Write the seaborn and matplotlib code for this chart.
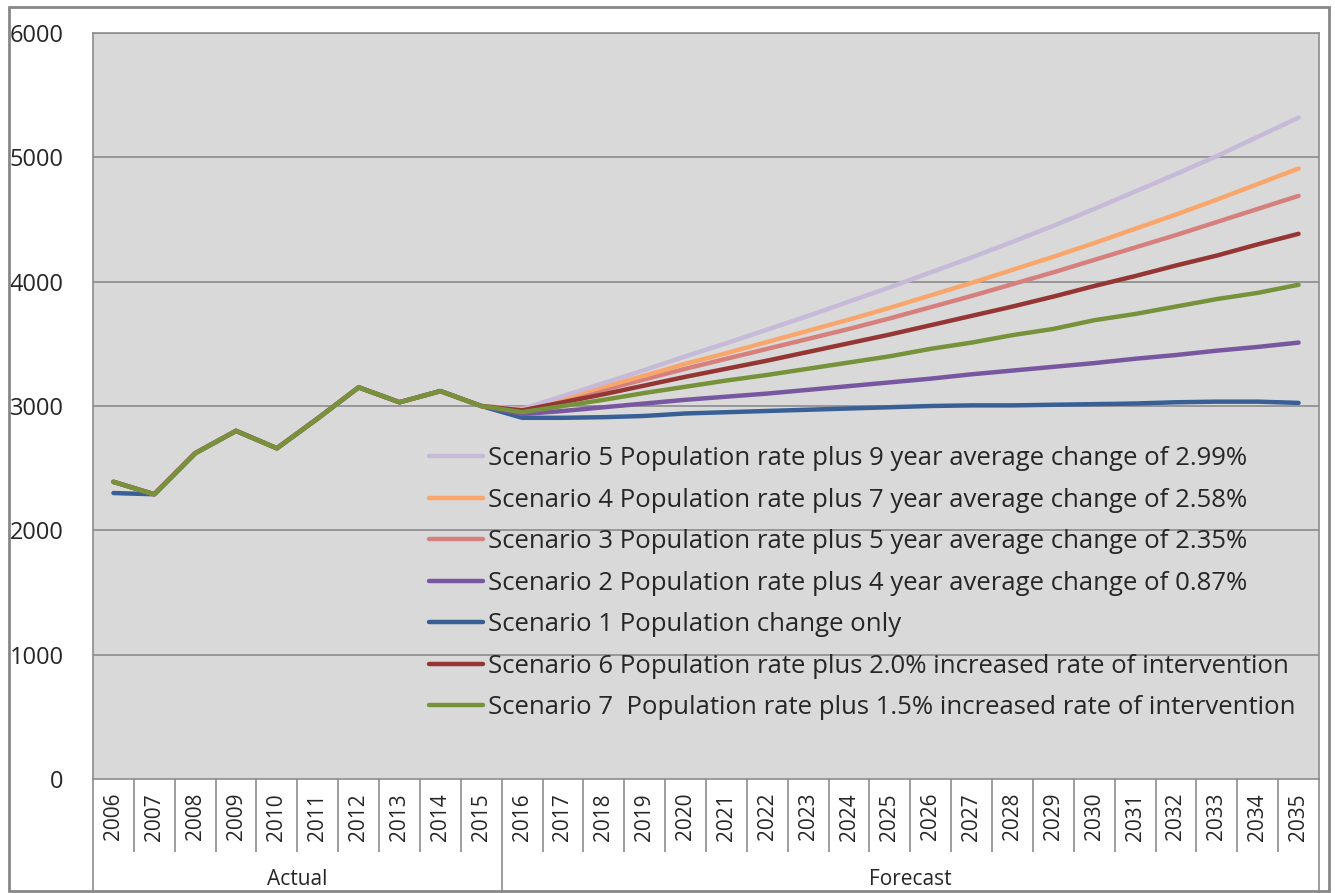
import numpy as np
import pandas as pd
import matplotlib.pyplot as plt
import matplotlib.transforms as mtransforms
from matplotlib.lines import Line2D
from matplotlib.patches import Rectangle
import seaborn as sns

# ---- data ----
actual_years = list(range(2006, 2016))
forecast_years = list(range(2016, 2036))

actual_common = [2390, 2290, 2620, 2800, 2660, 2900, 3150, 3030, 3120, 3000]
actual_s1 = [2300, 2290, 2620, 2800, 2660, 2900, 3150, 3030, 3120, 3000]

s1 = [2905, 2905, 2910, 2920, 2940, 2950, 2960, 2970, 2980, 2990,
      3000, 3005, 3005, 3010, 3015, 3020, 3030, 3035, 3035, 3025]
s2 = [2935, 2960, 2990, 3020, 3050, 3075, 3100, 3130, 3160, 3190,
      3220, 3255, 3285, 3315, 3345, 3380, 3410, 3445, 3475, 3510]
s3 = [2970, 3050, 3130, 3215, 3300, 3380, 3460, 3540, 3620, 3705,
      3795, 3885, 3980, 4075, 4175, 4275, 4375, 4480, 4585, 4690]
s4 = [2975, 3065, 3155, 3245, 3340, 3425, 3515, 3605, 3695, 3790,
      3890, 3990, 4095, 4200, 4310, 4425, 4540, 4660, 4785, 4910]
s5 = [2975, 3080, 3185, 3290, 3400, 3505, 3615, 3725, 3840, 3955,
      4075, 4195, 4320, 4450, 4585, 4725, 4865, 5010, 5165, 5320]
s6 = [2965, 3030, 3095, 3165, 3235, 3300, 3365, 3435, 3505, 3575,
      3650, 3725, 3800, 3880, 3965, 4045, 4130, 4210, 4300, 4385]
s7 = [2950, 3000, 3050, 3105, 3155, 3205, 3250, 3300, 3350, 3400,
      3460, 3510, 3570, 3620, 3690, 3740, 3800, 3860, 3910, 3975]

labels = {
    "s1": "Scenario 1 Population change only",
    "s2": "Scenario 2 Population rate plus 4 year average change of 0.87%",
    "s3": "Scenario 3 Population rate plus 5 year average change of 2.35%",
    "s4": "Scenario 4 Population rate plus 7 year average change of 2.58%",
    "s5": "Scenario 5 Population rate plus 9 year average change of 2.99%",
    "s6": "Scenario 6 Population rate plus 2.0% increased rate of intervention",
    "s7": "Scenario 7  Population rate plus 1.5% increased rate of intervention",
}
colors = {
    "s1": "#386096",
    "s2": "#7857A0",
    "s3": "#D6807D",
    "s4": "#F9A66C",
    "s5": "#C6BAD8",
    "s6": "#953634",
    "s7": "#76933C",
}
draw_order = ["s1", "s2", "s3", "s4", "s5", "s6", "s7"]
legend_order = ["s5", "s4", "s3", "s2", "s1", "s6", "s7"]

forecasts = {"s1": s1, "s2": s2, "s3": s3, "s4": s4, "s5": s5, "s6": s6, "s7": s7}

rows = []
for key in draw_order:
    hist = actual_s1 if key == "s1" else actual_common
    for yr, v in zip(actual_years + forecast_years, hist + forecasts[key]):
        rows.append({"year": yr, "value": v, "scenario": key})
df = pd.DataFrame(rows)

# ---- figure ----
sns.set_style("white")
plt.rcParams["font.family"] = ["Open Sans", "DejaVu Sans"]

W, H = 1335, 893
fig = plt.figure(figsize=(W / 100, H / 100), dpi=100)
ax = fig.add_axes([93 / W, (H - 779) / H, (1319 - 93) / W, (779 - 33) / H])
ax.set_facecolor("#D9D9D9")

grid_col = "#8C8C8C"
for yv in range(1000, 6001, 1000):
    ax.axhline(yv, color=grid_col, lw=1.2, zorder=1)

sns.lineplot(data=df, x="year", y="value", hue="scenario", hue_order=draw_order,
             palette=colors, linewidth=3.2, legend=False, sort=False, ax=ax,
             zorder=3)

years = actual_years + forecast_years
ax.set_xlim(years[0] - 0.5, years[-1] + 0.5)
ax.set_ylim(0, 6000)
ax.set_yticks(range(0, 6001, 1000))
ax.set_xticks(years)
ax.set_xticklabels([str(y) for y in years], rotation=90)
ax.set_xlabel("")
ax.set_ylabel("")
ax.tick_params(axis="y", length=8, width=1.2, color=grid_col, pad=13, labelsize=17)
ax.tick_params(axis="x", length=0, pad=10, labelsize=15)
for sp in ax.spines.values():
    sp.set_color(grid_col)
    sp.set_linewidth(1.2)

# category separators under the axis
trans = mtransforms.blended_transform_factory(ax.transData, ax.transAxes)
seps = [y + 0.5 for y in years[:-1]]
ax.vlines([s for s in seps if s != actual_years[-1] + 0.5], -0.098, 0,
          transform=trans, color=grid_col, lw=1.2, clip_on=False)
group_edges = [years[0] - 0.5, actual_years[-1] + 0.5, years[-1] + 0.5]
ax.vlines(group_edges, -0.16, 0, transform=trans, color=grid_col, lw=1.2,
          clip_on=False)

# group labels at the bottom edge
label_y = -(890 - 779) / (779 - 33)
ax.text(np.mean([actual_years[0], actual_years[-1]]), label_y, "Actual",
        transform=trans, ha="center", va="bottom", fontsize=15)
ax.text(np.mean([forecast_years[0], forecast_years[-1]]), label_y, "Forecast",
        transform=trans, ha="center", va="bottom", fontsize=15)

# legend
handles = [Line2D([0], [0], color=colors[k], lw=3.2) for k in legend_order]
ax.legend(handles, [labels[k] for k in legend_order], loc="upper left",
          bbox_to_anchor=(429 / W, (H - 446) / H), bbox_transform=fig.transFigure,
          frameon=False, fontsize=18.5, handlelength=2.1, handletextpad=0.19,
          labelspacing=0.645, borderpad=0, borderaxespad=0)

# outer chart border
fig.patches.append(Rectangle((9 / W, 2 / H), (1329 - 9) / W, (884 - 0) / H,
                             transform=fig.transFigure, fill=False,
                             edgecolor="#878787", lw=2, zorder=10))

fig.savefig("out.png", dpi=100)
